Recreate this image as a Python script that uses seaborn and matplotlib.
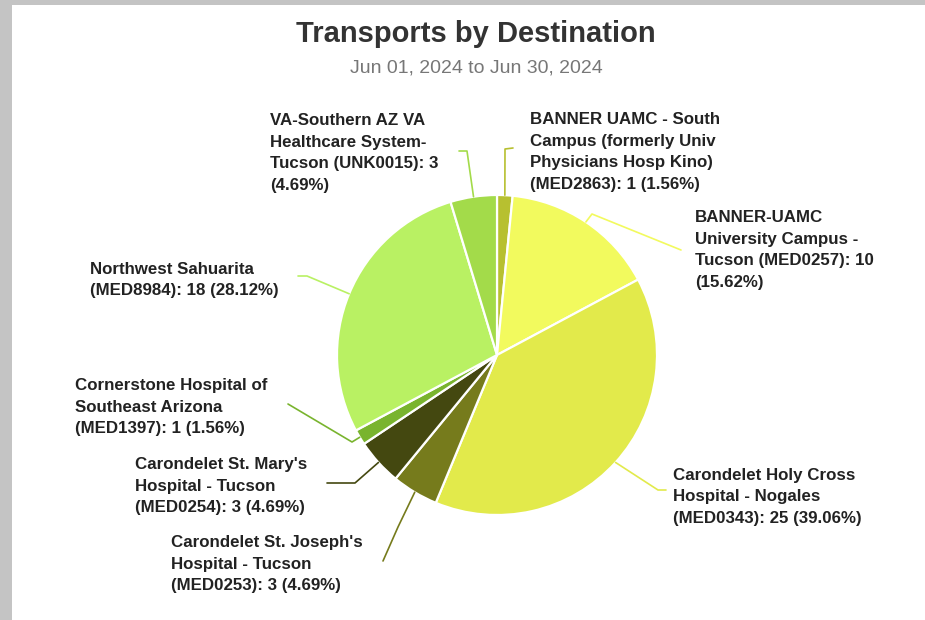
import numpy as np
import matplotlib
matplotlib.use("Agg")
import matplotlib.pyplot as plt
import seaborn as sns
from matplotlib.patches import Rectangle

sns.set_theme(style="white")
plt.rcParams['font.family'] = ['Liberation Sans', 'DejaVu Sans']

# --- data ---
title = "Transports by Destination"
subtitle = "Jun 01, 2024 to Jun 30, 2024"

names = [
    "BANNER UAMC - South\nCampus (formerly Univ\nPhysicians Hosp Kino)\n(MED2863)",
    "BANNER-UAMC\nUniversity Campus -\nTucson (MED0257)",
    "Carondelet Holy Cross\nHospital - Nogales\n(MED0343)",
    "Carondelet St. Joseph's\nHospital - Tucson\n(MED0253)",
    "Carondelet St. Mary's\nHospital - Tucson\n(MED0254)",
    "Cornerstone Hospital of\nSoutheast Arizona\n(MED1397)",
    "Northwest Sahuarita\n(MED8984)",
    "VA-Southern AZ VA\nHealthcare System-\nTucson (UNK0015)",
]
counts = [1, 10, 25, 3, 3, 1, 18, 3]
slice_colors = ["#b7c030", "#f2fa5e", "#e2ea4b", "#767b1c",
                "#444810", "#79b42e", "#b9f163", "#a3db4a"]

# --- layout (pixels, y measured from top) ---
W, H = 925, 620
center = (497, 355)
radius = 160
pct_on_new_line = [False, True, False, False, False, False, False, True]
label_pos = [(530, 152), (695, 250), (673, 497), (171, 564),
             (135, 486), (75, 407), (90, 280), (270, 153)]
connectors = [
    [(505, 149), (513, 148)],
    [(592, 214), (681, 250)],
    [(658, 490), (666, 490)],
    [(398, 527), (383, 561)],
    [(355, 483), (327, 483)],
    [(352, 442), (288, 404)],
    [(307, 276), (298, 276)],
    [(467, 151), (459, 151)],
]


def fy(y):
    return H - y


fig = plt.figure(figsize=(W / 100, H / 100), dpi=100)
fig.patch.set_facecolor("#c4c4c4")
ax = fig.add_axes([0, 0, 1, 1])
ax.add_patch(Rectangle((12, 0), W - 12, H - 5, facecolor="white", edgecolor="none", zorder=0))

palette = sns.color_palette(slice_colors)
wedges, _ = ax.pie(
    counts,
    colors=palette,
    startangle=90,
    counterclock=False,
    center=(center[0], fy(center[1])),
    radius=radius,
    wedgeprops=dict(edgecolor="white", linewidth=1.6, joinstyle="round"),
)

total = sum(counts)
for i, w in enumerate(wedges):
    ang = np.deg2rad((w.theta1 + w.theta2) / 2)
    ax_x = center[0] + radius * np.cos(ang)
    ax_y = fy(center[1]) + radius * np.sin(ang)
    pts = [(ax_x, ax_y)] + [(x, fy(y)) for x, y in connectors[i]]
    xs, ys = zip(*pts)
    ax.plot(xs, ys, color=palette[i], linewidth=1.2, zorder=3)

    pct = counts[i] / total * 100
    sep = "\n" if pct_on_new_line[i] else " "
    text = f"{names[i]}: {counts[i]}{sep}({pct:.2f}%)"
    ax.text(label_pos[i][0], fy(label_pos[i][1]), text, ha="left", va="center",
            fontsize=12.2, fontweight="bold", color="#222222", linespacing=1.58)

ax.text(476, fy(34), title, ha="center", va="center", fontsize=21,
        fontweight="bold", color="#333333")
ax.text(476, fy(68), subtitle, ha="center", va="center", fontsize=14,
        color="#777777")

ax.set_xlim(0, W)
ax.set_ylim(0, H)
ax.set_aspect("equal")
ax.axis("off")

fig.savefig("out.png", dpi=100, facecolor=fig.get_facecolor())
